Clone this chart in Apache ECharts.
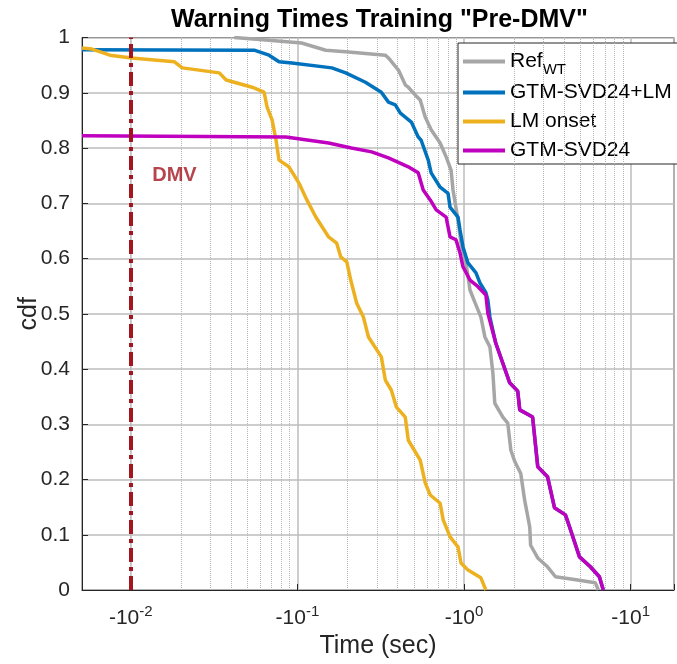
<!DOCTYPE html>
<html>
<head>
    <meta charset="utf-8">
    <title>Warning Times Training</title>
    <script src="https://cdn.jsdelivr.net/npm/echarts@6/dist/echarts.min.js"></script>
    <style>
        html, body { margin: 0; padding: 0; background: #fff; }
    </style>
</head>
<body>
    <div id="main" style="width:677px;height:664px;"></div>
    <script type="text/javascript">

// time magnitude (sec, log axis) vs cdf
var refWT = [
    [0.0418, 1.0], [0.0676, 0.995], [0.106, 0.99], [0.148, 0.977], [0.195, 0.974],
    [0.337, 0.968], [0.352, 0.963], [0.404, 0.941], [0.445, 0.914], [0.463, 0.91],
    [0.509, 0.896], [0.546, 0.887], [0.585, 0.856], [0.635, 0.833], [0.719, 0.809],
    [0.781, 0.784], [0.836, 0.76], [0.859, 0.724], [0.92, 0.67], [0.959, 0.628],
    [1.028, 0.592], [1.086, 0.543], [1.164, 0.52], [1.263, 0.494], [1.334, 0.458],
    [1.43, 0.44], [1.49, 0.393], [1.53, 0.338], [1.71, 0.313], [1.83, 0.302],
    [1.91, 0.253], [2.02, 0.232], [2.19, 0.211], [2.31, 0.163], [2.48, 0.114],
    [2.51, 0.081], [2.77, 0.058], [3.17, 0.042], [3.54, 0.024], [4.8, 0.018],
    [6.14, 0.013], [6.4, 0.0]
];
var gtmLM = [
    [0.0051, 0.978], [0.055, 0.977], [0.0676, 0.968], [0.0776, 0.956], [0.0927, 0.954],
    [0.161, 0.945], [0.195, 0.936], [0.256, 0.919], [0.319, 0.901], [0.352, 0.883],
    [0.387, 0.878], [0.415, 0.863], [0.483, 0.847], [0.531, 0.82], [0.553, 0.814],
    [0.61, 0.778], [0.635, 0.755], [0.719, 0.729], [0.802, 0.718], [0.824, 0.693],
    [0.92, 0.675], [0.946, 0.652], [0.986, 0.621], [1.056, 0.592], [1.18, 0.574],
    [1.246, 0.556], [1.353, 0.538], [1.39, 0.525], [1.43, 0.494], [1.55, 0.447],
    [1.88, 0.375], [2.1, 0.36], [2.16, 0.326], [2.58, 0.313], [2.77, 0.223],
    [3.17, 0.205], [3.49, 0.149], [4.06, 0.136], [4.3, 0.114], [4.93, 0.06],
    [5.73, 0.042], [6.49, 0.024], [6.85, 0.0]
];
var lmOnset = [
    [0.0051, 0.981], [0.00585, 0.979], [0.0075, 0.968], [0.0101, 0.963], [0.0183, 0.956],
    [0.0204, 0.945], [0.034, 0.936], [0.0374, 0.923], [0.0535, 0.91], [0.0631, 0.901],
    [0.0658, 0.874], [0.0705, 0.851], [0.0745, 0.814], [0.0776, 0.778], [0.0889, 0.766],
    [0.102, 0.737], [0.114, 0.706], [0.129, 0.675], [0.154, 0.639], [0.172, 0.628],
    [0.182, 0.603], [0.198, 0.594], [0.209, 0.561], [0.227, 0.519], [0.249, 0.494],
    [0.267, 0.458], [0.319, 0.422], [0.337, 0.38], [0.366, 0.362], [0.393, 0.331],
    [0.444, 0.313], [0.463, 0.271], [0.546, 0.235], [0.585, 0.194], [0.627, 0.172],
    [0.719, 0.157], [0.75, 0.127], [0.825, 0.096], [0.92, 0.078], [0.959, 0.049],
    [1.057, 0.036], [1.262, 0.022], [1.352, 0.0]
];
var gtm = [
    [0.0051, 0.822], [0.0853, 0.82], [0.154, 0.809], [0.211, 0.8], [0.279, 0.793],
    [0.352, 0.782], [0.463, 0.766], [0.531, 0.755], [0.569, 0.724], [0.627, 0.706],
    [0.681, 0.688], [0.781, 0.675], [0.824, 0.639], [0.895, 0.634], [0.946, 0.61],
    [0.986, 0.585], [1.086, 0.561], [1.213, 0.549], [1.353, 0.534], [1.39, 0.501],
    [1.55, 0.447], [1.88, 0.375], [2.1, 0.36], [2.16, 0.326], [2.58, 0.313],
    [2.77, 0.223], [3.17, 0.205], [3.49, 0.149], [4.06, 0.136], [4.3, 0.114],
    [4.93, 0.06], [5.73, 0.042], [6.49, 0.024], [6.85, 0.0]
];

var seriesNames = ['Ref_WT', 'GTM-SVD24+LM', 'LM onset', 'GTM-SVD24'];
var seriesColors = ['#a6a6a6', '#0072bd', '#edb120', '#bf00bf'];
var dmvTime = 0.01;
var dmvLabel = [[0.0183, 0.751]];

// dotted minor grid at 2..9 x 10^k
var minorTicks = [];
[0.001, 0.01, 0.1, 1, 10].forEach(function (d) {
    for (var m = 2; m <= 9; m++) {
        var v = +(m * d).toPrecision(3);
        if (v > 0.0051 && v < 18.2) minorTicks.push(v);
    }
});

var font = 'Liberation Sans';
var dmvColor = '#a3151f';
var myChart = echarts.init(document.getElementById('main'));

var option = {
    animation: false,
    textStyle: { fontFamily: font },
    title: {
        text: 'Warning Times Training "Pre-DMV"',
        left: 166,
        top: 3,
        textStyle: { fontSize: 25, fontWeight: 'bold', color: '#000', fontFamily: font }
    },
    grid: {
        left: 82, right: 0, top: 37.5, bottom: 74,
        show: true, borderColor: '#262626', borderWidth: 1, backgroundColor: '#fff'
    },
    legend: {
        orient: 'vertical',
        left: 458, top: 43,
        padding: [3, 10, 0, 5],
        backgroundColor: '#fff',
        borderColor: '#262626', borderWidth: 1,
        icon: 'rect', itemWidth: 42, itemHeight: 4, itemGap: 2,
        data: seriesNames,
        formatter: function (name) {
            return name === 'Ref_WT' ? 'Ref{sub|WT}' : name;
        },
        textStyle: {
            fontSize: 21, color: '#000', lineHeight: 27, fontFamily: font,
            rich: { sub: { fontSize: 15, lineHeight: 15, padding: [16, 0, 0, 0], fontFamily: font, color: '#000' } }
        }
    },
    xAxis: {
        type: 'log', logBase: 10, min: 0.0051, max: 18.2,
        name: 'Time (sec)', nameLocation: 'middle', nameGap: 37,
        nameTextStyle: { fontSize: 25, color: '#262626', fontFamily: font },
        axisLine: { lineStyle: { color: '#262626', width: 1 } },
        axisTick: { inside: true, length: 6, lineStyle: { color: '#262626' } },
        axisLabel: {
            margin: 14, fontSize: 21, color: '#262626', fontFamily: font,
            formatter: function (v) {
                var e = Math.log10(v), r = Math.round(e);
                if (Math.abs(e - r) > 1e-6) return '';
                return '-10{sup|' + r + '}';
            },
            rich: { sup: { fontSize: 15, padding: [0, 0, 14, 0], color: '#262626', fontFamily: font } }
        },
        splitLine: { show: true, lineStyle: { color: '#bdbdbd', width: 1.5 } }
    },
    yAxis: {
        type: 'value', min: 0, max: 1, interval: 0.1,
        name: 'cdf', nameLocation: 'middle', nameGap: 40, nameRotate: 90,
        nameMoveOverlap: false,
        nameTextStyle: { fontSize: 25, color: '#262626', fontFamily: font },
        axisLine: { show: true, lineStyle: { color: '#262626', width: 1 } },
        axisTick: { show: true, inside: true, length: 6, lineStyle: { color: '#262626' } },
        axisLabel: {
            margin: 12, fontSize: 21, color: '#262626', fontFamily: font,
            formatter: function (v) { return String(Math.round(v * 10) / 10); }
        },
        splitLine: { show: true, lineStyle: { color: '#bdbdbd', width: 1.5 } }
    },
    series: [
        {
            name: 'minor', type: 'line', data: [], silent: true,
            markLine: {
                silent: true, symbol: ['none', 'none'], animation: false,
                label: { show: false },
                lineStyle: { type: 'dotted', color: '#b5b5b5', width: 1 },
                data: minorTicks.map(function (v) { return { xAxis: v }; })
            }
        }
    ].concat([refWT, gtmLM, lmOnset, gtm].map(function (d, i) {
        return {
            name: seriesNames[i], type: 'line', data: d, z: 10,
            showSymbol: false, symbol: 'none',
            lineStyle: { color: seriesColors[i], width: 3.5 },
            itemStyle: { color: seriesColors[i] }
        };
    })).concat([
        {
            name: 'DMV', type: 'scatter', data: dmvLabel, symbolSize: 0, z: 12, silent: true,
            label: {
                show: true, position: 'inside', formatter: 'DMV',
                fontSize: 20, fontWeight: 'bold', color: dmvColor, fontFamily: font
            },
            markLine: {
                silent: true, symbol: ['none', 'none'], animation: false, z: 12,
                label: { show: false },
                lineStyle: { type: [14, 5, 4, 5], color: dmvColor, width: 4 },
                data: [{ xAxis: dmvTime }]
            }
        }
    ])
};

myChart.setOption(option);
    </script>
</body>
</html>
